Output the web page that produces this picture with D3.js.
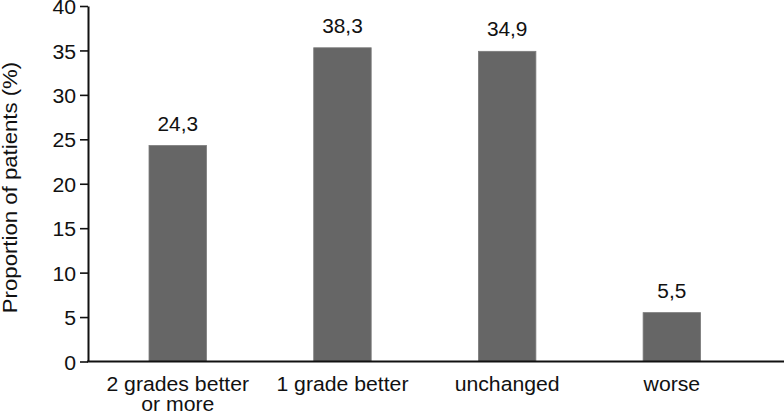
<!DOCTYPE html>
<html><head><meta charset="utf-8">
<script src="https://cdn.jsdelivr.net/npm/d3@7"></script>
<style>body{margin:0;background:#fff}svg{display:block;font-family:"Liberation Sans",Arial,Helvetica,sans-serif}</style>
</head><body>
<svg id="c" width="784" height="413"></svg>
<script>
const categories = [["2 grades better","or more"],["1 grade better"],["unchanged"],["worse"]];
const values = [24.3, 35.3, 34.9, 5.5];
const valueLabels = ["24,3","38,3","34,9","5,5"];
const yTicks = [0,5,10,15,20,25,30,35,40];

const FS = 19.3, K = 1.1;
const svg = d3.select("#c");
const x0 = 88, y0 = 361.5, yTop = 6;
const y = d3.scaleLinear().domain([0,40]).range([y0, yTop]);
const x = d3.scaleBand().domain(d3.range(values.length)).range([95.4, 754.2]).paddingInner(0.651).paddingOuter(0.3255);

// bars
svg.selectAll("rect.bar").data(values).enter().append("rect")
  .attr("class","bar")
  .attr("x",(d,i)=>x(i)).attr("width",x.bandwidth())
  .attr("y",d=>y(d)).attr("height",d=>y0-y(d))
  .attr("fill","#666666").attr("stroke","#7c7c7c").attr("stroke-width",0.8);

// value labels
svg.selectAll("text.val").data(values).enter().append("text")
  .attr("transform",(d,i)=>`translate(${x(i)+x.bandwidth()/2},${y(d)-15}) scale(1.08,1)`)
  .attr("text-anchor","middle").attr("font-size",19.3).attr("fill","#111")
  .text((d,i)=>valueLabels[i]);

// y axis
const yAxis = d3.axisLeft(y).tickValues(yTicks).tickSize(8).tickPadding(3).tickSizeOuter(0);
const gy = svg.append("g").attr("transform",`translate(${x0},0)`).call(yAxis);
gy.select(".domain").attr("stroke","#111").attr("stroke-width",2);
gy.selectAll(".tick line").attr("stroke","#111").attr("stroke-width",1.6);
gy.selectAll(".tick text").attr("font-size",FS).attr("fill","#111")
  .attr("font-family","Liberation Sans, Arial, sans-serif")
  .attr("transform",`scale(${K},1)`).attr("x",-10.9).attr("y",1.5);

// x axis line
svg.append("line").attr("x1",x0-1).attr("x2",784).attr("y1",y0).attr("y2",y0)
  .attr("stroke","#111").attr("stroke-width",2);

// category labels
svg.selectAll("g.cat").data(categories).enter().append("g")
  .attr("transform",(d,i)=>`translate(${x(i)+x.bandwidth()/2},391) scale(${K},1)`)
  .each(function(lines){
    const g = d3.select(this);
    lines.forEach((ln,j)=>{
      g.append("text").attr("x",0).attr("y",j*20.5).attr("text-anchor","middle")
        .attr("font-size",FS).attr("fill","#111").text(ln);
    });
  });

// y title
svg.append("text").attr("transform","translate(17,187.5) rotate(-90) scale(1.12,1)")
  .attr("text-anchor","middle").attr("font-size",19.8).attr("fill","#111")
  .text("Proportion of patients (%)");
</script>
</body></html>
